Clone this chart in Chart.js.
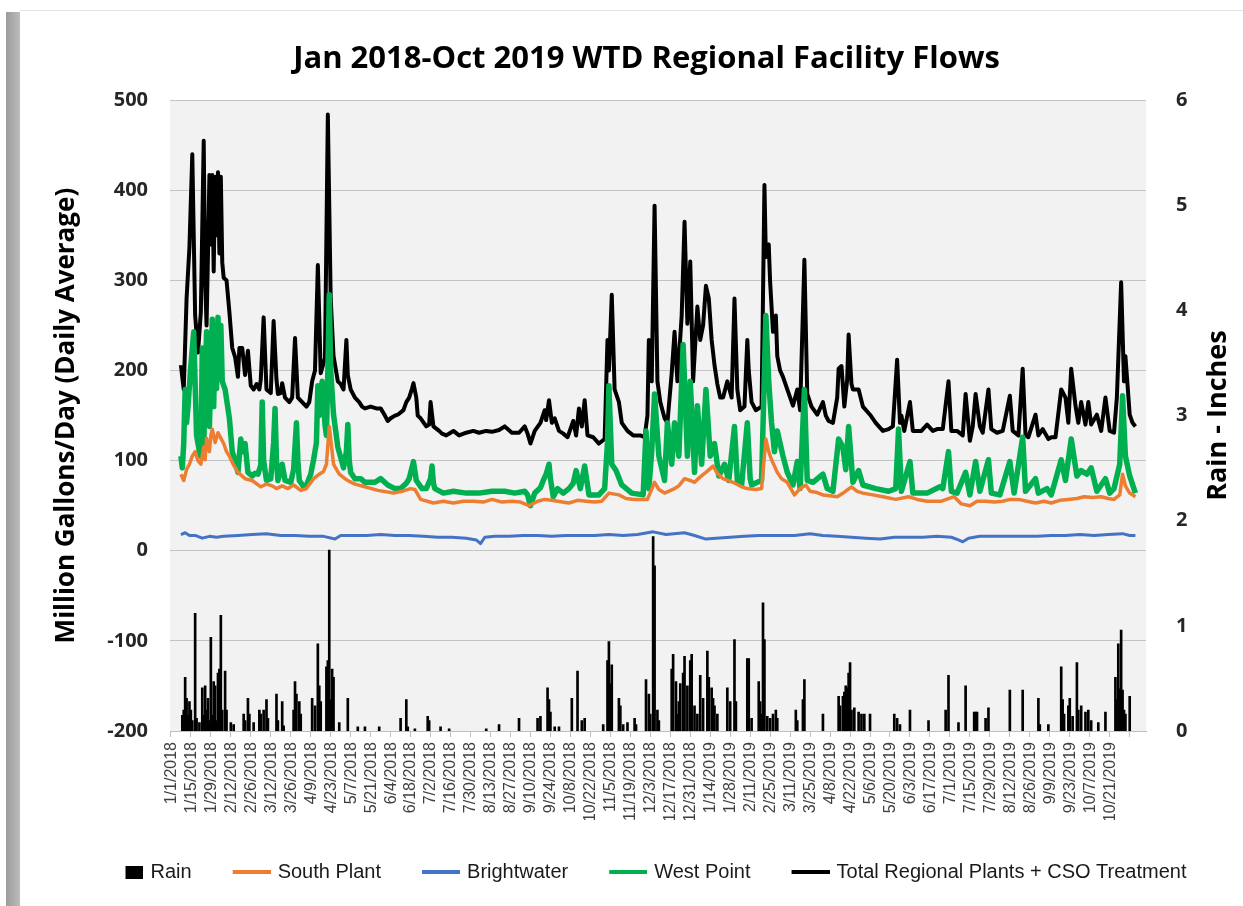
<!DOCTYPE html>
<html>
<head>
<meta charset="utf-8">
<title>Jan 2018-Oct 2019 WTD Regional Facility Flows</title>
<script src="https://cdn.jsdelivr.net/npm/chart.js@4.4.1/dist/chart.umd.min.js"></script>
<style>
  html, body { margin: 0; padding: 0; background: #fff; }
  #wrap { position: relative; width: 1243px; height: 906px; overflow: hidden; background: #fff; }
  #edge { position: absolute; left: 6px; top: 12px; width: 14px; bottom: 0; background: linear-gradient(to right, #9c9c9c, #bdbdbd); }
  #topline { position: absolute; left: 20px; top: 10px; right: 0; height: 1px; background: #e2e2e2; }
  #chartCanvas { position: absolute; left: 0; top: 0; }
</style>
</head>
<body>
<div id="wrap">
  <div id="edge"></div>
  <div id="topline"></div>
  <canvas id="chartCanvas" width="1243" height="906"></canvas>
</div>
<script>
// x axis tick labels, one every 14 days starting 1/1/2018
const tickLabels = [
  "1/1/2018", "1/15/2018", "1/29/2018", "2/12/2018", "2/26/2018", "3/12/2018", "3/26/2018",
  "4/9/2018", "4/23/2018", "5/7/2018", "5/21/2018", "6/4/2018", "6/18/2018", "7/2/2018",
  "7/16/2018", "7/30/2018", "8/13/2018", "8/27/2018", "9/10/2018", "9/24/2018", "10/8/2018",
  "10/22/2018", "11/5/2018", "11/19/2018", "12/3/2018", "12/17/2018", "12/31/2018",
  "1/14/2019", "1/28/2019", "2/11/2019", "2/25/2019", "3/11/2019", "3/25/2019", "4/8/2019",
  "4/22/2019", "5/6/2019", "5/20/2019", "6/3/2019", "6/17/2019", "7/1/2019", "7/15/2019",
  "7/29/2019", "8/12/2019", "8/26/2019", "9/9/2019", "9/23/2019", "10/7/2019", "10/21/2019"
];

// Rain (inches), day index since 1/1/2018
const rainDays = [
  1, 2, 3, 4, 5, 6, 7, 8, 10, 11, 13, 15, 16, 17, 18, 19, 20, 21, 22, 23, 24, 25, 26, 27, 28, 29, 31, 32, 35, 37,
  44, 45, 47, 48, 51, 55, 56, 58, 60, 61, 67, 68, 71, 72, 79, 80, 81, 83, 84, 92, 94, 96, 97, 98, 102, 103, 104,
  105, 106, 107, 111, 117, 124, 129, 139, 154, 158, 159, 164, 173, 174, 182, 188, 214, 223, 237, 250, 252, 257,
  258, 259, 262, 265, 274, 278, 281, 283, 296, 299, 300, 301, 302, 307, 308, 310, 313, 318, 319, 326, 328, 329,
  331, 332, 334, 335, 344, 345, 347, 348, 349, 350, 352, 353, 355, 357, 358, 360, 362, 364, 366, 369, 370, 372,
  373, 374, 376, 383, 385, 388, 389, 397, 398, 400, 405, 406, 407, 408, 409, 411, 413, 415, 417, 418, 431, 432,
  436, 437, 450, 461, 462, 464, 465, 466, 467, 468, 469, 470, 472, 475, 477, 479, 483, 500, 502, 504, 511, 524,
  536, 538, 545, 550, 556, 557, 558, 564, 566, 581, 590, 601, 602, 608, 617, 618, 619, 622, 623, 625, 628, 629,
  631, 634, 636, 638, 643, 648, 655, 656, 657, 658, 659, 660, 661, 662, 665
];
const rainInches = [
  0.15, 0.2, 0.51, 0.31, 0.15, 0.28, 0.2, 0.1, 1.12, 0.12, 0.08, 0.41, 0.15, 0.43, 0.2, 0.31, 0.1, 0.89, 0.15, 0.47,
  0.43, 0.1, 0.55, 0.59, 1.1, 0.2, 0.57, 0.2, 0.08, 0.06,
  0.16, 0.1, 0.31, 0.16, 0.08, 0.2, 0.16, 0.2, 0.3, 0.12, 0.35, 0.1, 0.28, 0.05, 0.2, 0.47, 0.35, 0.28, 0.16, 0.31,
  0.24, 0.83, 0.43, 0.28, 0.61, 0.67, 1.72,
  0.3, 0.59, 0.51, 0.08, 0.31, 0.04, 0.04, 0.04, 0.12, 0.3, 0.04, 0.02, 0.14, 0.1, 0.04, 0.02, 0.02, 0.06, 0.12, 0.12, 0.14, 0.41,
  0.3, 0.18, 0.04, 0.04, 0.31, 0.57, 0.1, 0.12, 0.06, 0.67, 0.85, 0.45, 0.63, 0.31, 0.24, 0.06, 0.08, 0.12, 0.06, 0.49, 0.35, 0.16,
  1.85, 1.57, 0.2, 0.1, 0.59, 0.73, 0.47, 0.16, 0.28, 0.45, 0.55, 0.71, 0.43, 0.67, 0.73, 0.24, 0.16, 0.53, 0.31, 0.76, 0.51, 0.41,
  0.31, 0.24, 0.16, 0.41, 0.28, 0.87, 0.28, 0.69, 0.69, 0.12, 0.47, 0.28, 0.16, 1.22, 0.87, 0.14, 0.12, 0.16, 0.2, 0.12, 0.2, 0.1,
  0.3, 0.49, 0.16, 0.33, 0.24, 0.33, 0.37, 0.43, 0.41, 0.55, 0.65, 0.2, 0.22, 0.18, 0.16, 0.16, 0.16, 0.16, 0.12, 0.06, 0.2, 0.1,
  0.2, 0.53, 0.08, 0.43, 0.18, 0.18, 0.18, 0.12, 0.22, 0.39, 0.39, 0.31, 0.06, 0.06, 0.61, 0.3, 0.16, 0.24, 0.31, 0.14, 0.65, 0.2,
  0.24, 0.18, 0.2, 0.1, 0.08, 0.18, 0.51, 0.3, 0.83, 0.4, 0.96, 0.39, 0.2, 0.16, 0.33
];

// South Plant (MGD)
const southDays = [
  0, 2, 4, 6, 8, 10, 12, 14, 16, 17, 18, 20, 21, 22, 24, 26, 28, 30, 32, 34, 37, 40, 45, 50, 56, 60, 64, 67, 71, 75,
  79, 84, 88, 93, 97, 100, 102, 104, 106, 107, 111, 115, 118, 122, 129, 138, 149, 155, 161, 164, 168, 177, 184, 191,
  198, 205, 212, 218, 225, 232, 238, 244, 250, 255, 260, 264, 272, 278, 284, 290, 295, 300, 307, 312, 318, 327, 332,
  335, 339, 346, 349, 353, 357, 360, 364, 368, 373, 376, 380, 387, 393, 397, 403, 407, 410, 412, 414, 418, 421, 425,
  430, 434, 438, 441, 445, 450, 455, 460, 465, 470, 474, 478, 485, 492, 501, 510, 516, 523, 533, 542, 547, 553, 558,
  564, 570, 576, 581, 587, 593, 599, 605, 610, 616, 622, 628, 633, 639, 645, 650, 654, 658, 660, 662, 665, 669
];
const southFlow = [
  85, 78, 90, 96, 105, 110, 100, 96, 115, 101, 125, 110, 128, 135, 120, 131, 125, 119, 110, 105, 95, 87, 80, 78, 71, 74, 72, 69, 72, 69,
  73, 67, 69, 80, 85, 88, 96, 138, 110, 96, 85, 80, 77, 74, 71, 67, 64, 66, 69, 68, 57, 53, 55, 53,
  55, 55, 54, 57, 54, 55, 54, 50, 55, 57, 56, 55, 53, 56, 55, 54, 55, 64, 62, 58, 57, 57, 76,
  68, 64, 69, 72, 80, 78, 76, 82, 87, 94, 86, 80, 76, 71, 69, 68, 69, 124, 110, 101, 87, 80, 76,
  62, 69, 73, 66, 65, 62, 61, 60, 65, 71, 66, 64, 62, 60, 57, 60, 57, 55, 55, 60, 52, 50, 55,
  55, 54, 55, 57, 57, 55, 53, 55, 53, 56, 57, 58, 60, 59, 60, 58, 57, 62, 85, 72, 64, 60
];

// Brightwater (MGD)
const brightDays = [
  0, 3, 6, 10, 15, 20, 25, 30, 40, 50, 60, 70, 80, 90, 100, 108, 112, 120, 130, 140, 150, 160, 170, 180, 190, 200,
  207, 210, 213, 220, 230, 240, 250, 260, 270, 280, 290, 300, 310, 320, 331, 340, 353, 360, 368, 375, 385, 395, 405,
  420, 430, 441, 450, 460, 470, 480, 490, 500, 510, 520, 530, 540, 545, 548, 552, 560, 580, 600, 610, 620, 630, 640,
  650, 660, 665, 669
];
const brightFlow = [
  18, 20, 17, 17, 14, 16, 15, 16, 17, 18, 19, 17, 17, 16, 16, 13, 17, 17, 17, 18, 17, 17, 16, 15, 15, 14,
  12, 8, 15, 16, 16, 17, 17, 16, 17, 17, 17, 18, 17, 18, 21, 18, 20, 17, 13, 14, 15, 16, 17,
  17, 17, 19, 17, 16, 15, 14, 13, 15, 15, 15, 16, 15, 12, 10, 14, 16, 16, 16, 17, 17, 18, 17,
  18, 19, 17, 17
];

// West Point (MGD)
const westDays = [
  0, 1, 2, 3, 4, 5, 7, 9, 11, 13, 14, 15, 16, 18, 19, 20, 22, 23, 24, 25, 26, 27, 28, 29, 31, 34, 36, 38, 40, 42,
  43, 45, 47, 50, 52, 54, 56, 57, 58, 60, 63, 65, 66, 67, 68, 71, 73, 77, 79, 81, 82, 83, 86, 88, 91, 93, 95, 96,
  97, 99, 101, 102, 103, 104, 105, 107, 110, 114, 116, 117, 118, 119, 122, 126, 129, 136, 140, 145, 150, 154, 158,
  160, 163, 165, 169, 172, 175, 176, 177, 178, 184, 191, 200, 209, 218, 227, 234, 241, 243, 245, 248, 252, 254, 256,
  258, 259, 261, 264, 268, 272, 275, 277, 280, 283, 286, 293, 297, 299, 300, 302, 305, 309, 316, 324, 326, 328, 330,
  332, 335, 339, 341, 344, 346, 349, 352, 355, 357, 360, 362, 365, 368, 371, 374, 377, 381, 384, 388, 390, 393, 397,
  399, 400, 404, 407, 409, 410, 412, 414, 416, 418, 422, 425, 429, 432, 434, 437, 439, 443, 450, 453, 457, 461, 464,
  466, 468, 471, 475, 478, 487, 496, 501, 503, 505, 511, 513, 523, 532, 534, 538, 540, 544, 550, 553, 557, 560, 566,
  568, 574, 581, 584, 590, 592, 599, 601, 607, 610, 617, 620, 624, 628, 631, 635, 638, 642, 648, 651, 654, 658, 660,
  662, 665, 669
];
const westFlow = [
  105, 92, 119, 179, 142, 160, 206, 243, 128, 110, 105, 225, 115, 243, 160, 138, 257, 160, 250, 180, 259, 200, 250, 188, 179, 147, 110, 100, 87, 124,
  110, 119, 87, 83, 86, 85, 95, 165, 100, 78, 80, 120, 158, 100, 78, 96, 78, 76, 90, 142, 100, 78, 71, 73, 85, 101, 120, 183,
  150, 188, 140, 128, 200, 284, 200, 151, 115, 92, 110, 140, 100, 87, 80, 80, 76, 76, 80, 73, 69, 69, 75,
  80, 99, 78, 69, 69, 80, 94, 75, 69, 64, 66, 64, 64, 66, 66, 64, 66, 62, 50, 64, 70, 78, 85,
  96, 80, 60, 69, 64, 69, 75, 89, 69, 94, 62, 62, 69, 120, 183, 96, 89, 73, 64, 62, 133, 69, 110,
  174, 105, 78, 142, 96, 142, 105, 229, 105, 188, 87, 161, 96, 179, 105, 119, 83, 96, 78, 138, 78, 73, 142,
  80, 73, 76, 78, 200, 261, 188, 142, 110, 133, 105, 87, 73, 99, 69, 179, 78, 76, 85, 69, 66, 124, 115,
  90, 138, 76, 89, 73, 69, 66, 69, 135, 66, 99, 64, 64, 71, 69, 110, 66, 64, 87, 62, 99, 66, 101,
  64, 62, 99, 64, 126, 66, 80, 64, 69, 62, 101, 78, 124, 83, 89, 85, 92, 66, 80, 64, 69, 96, 172,
  105, 83, 64
];

// Total Regional Plants + CSO Treatment (MGD)
const totalDays = [
  0, 2, 4, 6, 8, 10, 12, 14, 16, 17, 18, 19, 20, 21, 22, 23, 24, 25, 26, 27, 28, 29, 30, 32, 34, 36, 38, 40, 41, 43,
  45, 47, 49, 51, 53, 55, 56, 58, 60, 63, 65, 67, 68, 70, 71, 73, 76, 78, 80, 82, 85, 88, 90, 92, 94, 96, 98, 101,
  103, 105, 107, 110, 112, 114, 116, 117, 119, 122, 125, 127, 129, 133, 137, 140, 143, 145, 147, 150, 152, 156, 158,
  160, 162, 163, 165, 166, 168, 172, 174, 175, 177, 181, 183, 186, 189, 191, 195, 200, 205, 209, 214, 218, 223, 227,
  232, 237, 241, 243, 245, 248, 252, 255, 256, 258, 260, 262, 265, 268, 271, 273, 275, 277, 279, 281, 283, 285, 289,
  293, 297, 299, 300, 302, 304, 307, 309, 313, 317, 322, 325, 327, 328, 330, 332, 334, 336, 339, 341, 344, 346, 348,
  351, 353, 355, 357, 359, 362, 364, 366, 368, 370, 372, 374, 376, 378, 380, 383, 386, 388, 390, 392, 395, 397, 398,
  400, 403, 407, 409, 410, 412, 413, 415, 417, 418, 420, 422, 425, 429, 432, 434, 437, 439, 442, 446, 450, 452, 454,
  457, 460, 461, 463, 465, 467, 468, 470, 471, 475, 478, 483, 487, 492, 496, 499, 502, 504, 505, 507, 511, 513, 519,
  523, 527, 530, 534, 538, 540, 544, 548, 550, 553, 555, 557, 560, 562, 566, 568, 572, 576, 581, 583, 587, 590, 592,
  594, 599, 601, 604, 608, 610, 613, 617, 620, 622, 624, 627, 629, 631, 634, 636, 638, 642, 645, 648, 651, 654, 656,
  659, 661, 662, 665, 667, 669
];
const totalFlow = [
  206, 179, 280, 337, 440, 261, 220, 265, 455, 300, 250, 330, 417, 340, 417, 310, 415, 350, 420, 330, 415, 320, 303, 300, 265, 225, 215, 193, 225, 225,
  195, 222, 183, 179, 185, 179, 190, 259, 179, 175, 255, 190, 174, 175, 186, 170, 165, 170, 236, 170, 165, 160, 165, 188, 200, 317, 197, 214,
  484, 280, 216, 188, 185, 179, 234, 195, 179, 170, 165, 160, 158, 160, 158, 158, 150, 144, 147, 150, 151, 156, 165,
  170, 180, 186, 170, 150, 147, 138, 140, 165, 138, 133, 130, 128, 131, 133, 128, 131, 133, 131, 133, 132, 134, 138,
  131, 131, 138, 130, 119, 133, 142, 156, 145, 167, 142, 147, 133, 130, 126, 135, 144, 128, 158, 138, 167, 128, 126,
  119, 124, 234, 200, 284, 179, 165, 142, 133, 128, 128, 126, 150, 234, 188, 383, 188, 165, 147, 142, 197, 243, 188,
  261, 365, 252, 321, 188, 271, 234, 250, 294, 280, 234, 206, 185, 170, 170, 188, 170, 280, 179, 156, 160, 234, 200,
  165, 156, 160, 406, 326, 340, 298, 243, 261, 216, 200, 193, 179, 161, 179, 156, 323, 174, 160, 151, 165, 150, 144,
  142, 170, 202, 205, 160, 190, 240, 185, 179, 179, 160, 151, 142, 133, 135, 138, 212, 142, 150, 133, 165, 133, 133,
  140, 133, 135, 135, 188, 133, 133, 128, 174, 122, 138, 174, 138, 131, 179, 135, 131, 133, 172, 133, 128, 202, 128,
  126, 151, 128, 135, 124, 126, 126, 179, 170, 142, 202, 161, 142, 165, 140, 165, 140, 151, 133, 170, 133, 131, 170,
  298, 188, 216, 151, 142, 138
];

function pairs(days, vals) {
  return days.map((d, i) => ({ x: d, y: vals[i] }));
}

// small canvases used as legend markers
function legendMark(color, isBox) {
  const c = document.createElement('canvas');
  c.width = 40;
  c.height = 14;
  const g = c.getContext('2d');
  g.fillStyle = color;
  if (isBox) g.fillRect(22, 1, 18, 13);
  else g.fillRect(2, 5, 38, 4);
  return c;
}

const colors = ['#000000', '#ED7D31', '#4472C4', '#00B050', '#000000'];
const legendMarks = colors.map((c, i) => legendMark(c, i === 0));

const plotBg = {
  id: 'plotBg',
  beforeDraw(chart) {
    const { ctx, chartArea: a } = chart;
    ctx.save();
    ctx.fillStyle = '#f2f2f2';
    ctx.fillRect(a.left, a.top, a.right - a.left, a.bottom - a.top);
    ctx.restore();
  }
};

// right axis title reads bottom-to-top like the left one
const rainTitle = {
  id: 'rainTitle',
  afterDraw(chart) {
    const { ctx, chartArea: a } = chart;
    ctx.save();
    ctx.translate(1218, (a.top + a.bottom) / 2);
    ctx.rotate(-Math.PI / 2);
    ctx.font = 'bold 27px "Open Sans"';
    ctx.fillStyle = '#000';
    ctx.textAlign = 'center';
    ctx.textBaseline = 'middle';
    ctx.fillText('Rain - Inches', 0, 0);
    ctx.restore();
  }
};

const tickFont = { family: '"Open Sans"', size: 20, weight: 'bold' };

const config = {
  type: 'line',
  data: {
    datasets: [
      {
        type: 'bar',
        label: 'Rain',
        data: pairs(rainDays, rainInches),
        yAxisID: 'yRain',
        backgroundColor: '#000',
        barThickness: 2
      },
      {
        label: 'South Plant',
        data: pairs(southDays, southFlow),
        borderColor: colors[1],
        borderWidth: 3.5
      },
      {
        label: 'Brightwater',
        data: pairs(brightDays, brightFlow),
        borderColor: colors[2],
        borderWidth: 3
      },
      {
        label: 'West Point',
        data: pairs(westDays, westFlow),
        borderColor: colors[3],
        borderWidth: 5.5
      },
      {
        label: 'Total Regional Plants + CSO Treatment',
        data: pairs(totalDays, totalFlow),
        borderColor: colors[4],
        borderWidth: 4
      }
    ]
  },
  options: {
    responsive: false,
    animation: false,
    devicePixelRatio: 1,
    layout: { padding: { left: 50, right: 0, top: 0, bottom: 14 } },
    elements: {
      point: { radius: 0 },
      line: { tension: 0, borderJoinStyle: 'round', fill: false }
    },
    plugins: {
      title: {
        display: true,
        text: 'Jan 2018-Oct 2019 WTD Regional Facility Flows',
        color: '#000',
        font: { family: '"Open Sans"', size: 31, weight: 'bold' },
        padding: { top: 41, bottom: 22 }
      },
      legend: {
        position: 'bottom',
        labels: {
          usePointStyle: true,
          pointStyleWidth: 34,
          color: '#1a1a1a',
          padding: 42,
          font: { family: '"Liberation Sans Narrow", "Liberation Sans"', size: 20 },
          generateLabels(chart) {
            const items = Chart.defaults.plugins.legend.labels.generateLabels(chart);
            items.forEach((it, i) => { it.pointStyle = legendMarks[i]; it.rotation = 0; });
            return items;
          }
        }
      },
      tooltip: { enabled: false }
    },
    scales: {
      x: {
        type: 'linear',
        min: -0.5,
        max: 669.3,
        afterBuildTicks(scale) {
          scale.ticks = tickLabels.map((t, i) => ({ value: i * 14 }));
        },
        afterFit(scale) { scale.height = 89; },
        ticks: {
          autoSkip: false,
          maxRotation: 90,
          minRotation: 90,
          padding: 5,
          labelOffset: -9.5,
          color: '#404040',
          font: { family: '"Liberation Sans Narrow", "Liberation Sans"', size: 16 },
          callback: (value, index) => tickLabels[index]
        },
        grid: { drawOnChartArea: false, tickLength: 6, color: '#bfbfbf' },
        border: { color: '#bfbfbf' }
      },
      y: {
        position: 'left',
        min: -200,
        max: 500,
        afterFit(scale) { scale.width = 120; },
        ticks: { stepSize: 100, padding: 22, color: '#262626', font: tickFont },
        grid: { color: '#c4c4c4', drawTicks: false },
        border: { display: false },
        title: {
          display: true,
          text: 'Million Gallons/Day (Daily Average)',
          color: '#000',
          padding: { top: 1, bottom: 0 },
          font: { family: '"Open Sans"', size: 26, weight: 'bold' }
        }
      },
      yRain: {
        position: 'right',
        min: 0,
        max: 6,
        afterFit(scale) { scale.width = 97; },
        ticks: { stepSize: 1, padding: 22, color: '#262626', font: tickFont },
        grid: { display: false },
        border: { display: false }
      }
    }
  },
  plugins: [plotBg, rainTitle]
};

const myChart = new Chart(document.getElementById('chartCanvas'), config);
</script>
</body>
</html>
